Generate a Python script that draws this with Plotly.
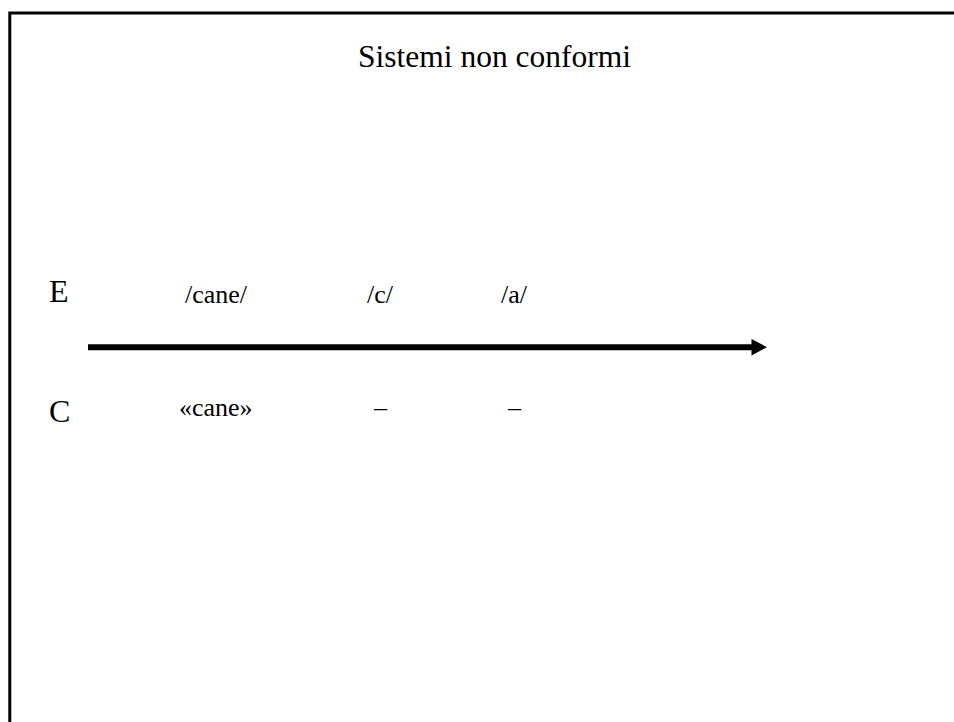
import plotly.graph_objects as go

# ---- content (values) ----
title_text = "Sistemi non conformi"
row_labels = ["E", "C"]
expression_labels = ["/cane/", "/c/", "/a/"]
content_labels = ["«cane»", "–", "–"]

# ---- layout (positions in screen-pixel axis units) ----
W, H = 954, 722
col_x = [216, 380, 514]
row_label_x = 59
row_y = {"E": 291, "C": 411}
row_text_y = {"E": 294, "C": 407}
FONT = "Liberation Serif, Times New Roman, serif"

fig = go.Figure()

annotations = []
annotations.append(dict(x=494, y=56, text=title_text, showarrow=False,
                        xanchor="center", yanchor="middle",
                        font=dict(family=FONT, size=31.5, color="black")))
for lab in row_labels:
    annotations.append(dict(x=row_label_x, y=row_y[lab], text=lab, showarrow=False,
                            xanchor="center", yanchor="middle",
                            font=dict(family=FONT, size=32, color="black")))
for x, t in zip(col_x, expression_labels):
    annotations.append(dict(x=x, y=row_text_y["E"], text=t, showarrow=False,
                            xanchor="center", yanchor="middle",
                            font=dict(family=FONT, size=26, color="black")))
for x, t in zip(col_x, content_labels):
    annotations.append(dict(x=x, y=row_text_y["C"], text=t, showarrow=False,
                            xanchor="center", yanchor="middle",
                            font=dict(family=FONT, size=26, color="black")))

shapes = [
    # slide border (extends beyond the visible window on right/bottom)
    dict(type="rect", x0=9.8, y0=13, x1=W + 30, y1=H + 30,
         line=dict(color="black", width=3), fillcolor="rgba(0,0,0,0)"),
    # arrow shaft
    dict(type="line", x0=88, y0=347.2, x1=753, y1=347.2,
         line=dict(color="black", width=6)),
    # arrow head
    dict(type="path", path="M 751.5 339 L 767 347.2 L 751.5 355.4 Z",
         fillcolor="black", line=dict(color="black", width=0)),
]

fig.update_layout(
    width=W, height=H,
    margin=dict(l=0, r=0, t=0, b=0),
    paper_bgcolor="white", plot_bgcolor="white",
    xaxis=dict(range=[0, W], visible=False, fixedrange=True),
    yaxis=dict(range=[H, 0], visible=False, fixedrange=True),
    annotations=annotations,
    shapes=shapes,
    showlegend=False,
)

fig.write_html(
    "out.html",
    config={"displayModeBar": False},
    post_script="document.body.style.margin='0';document.body.style.overflow='hidden';",
)
